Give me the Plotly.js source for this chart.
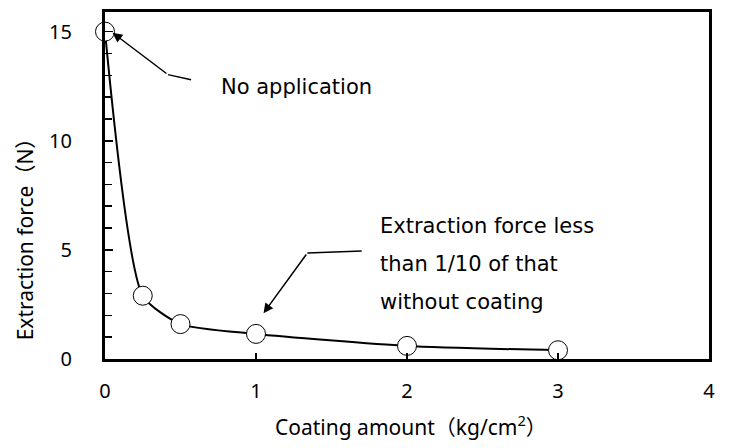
<!DOCTYPE html>
<html>
<head>
<meta charset="utf-8">
<script src="https://cdn.plot.ly/plotly-3.0.1.min.js"></script>
<style>html,body{margin:0;padding:0;background:#fff;}#chart{width:729px;height:448px;}</style>
</head>
<body>
<div id="chart"></div>
<script>
const coatingAmount = [0, 0.25, 0.5, 1, 2, 3];
const extractionForce = [15, 2.9, 1.6, 1.15, 0.6, 0.4];
const xTickVals = [0, 1, 2, 3, 4];
const yTickVals = [0, 5, 10, 15];
const xTitle = 'Coating amount（kg/cm<sup>2</sup>）';
const yTitle = 'Extraction force（N）';
const note1 = 'No application';
const note2Lines = ['Extraction force less', 'than 1/10 of that', 'without coating'];

const FONT = '"Noto Sans", "Noto Sans CJK JP", sans-serif';
const NOTE_FONT = '"DejaVu Sans", "Noto Sans CJK JP", sans-serif';

const trace = {
  x: coatingAmount, y: extractionForce,
  mode: 'lines+markers', type: 'scatter',
  line: {color: '#000', width: 2, shape: 'spline', smoothing: 0.6},
  marker: {size: 19, color: '#fff', line: {color: '#000', width: 1}},
  cliponaxis: false, showlegend: false, hoverinfo: 'skip'
};

const annotations = [
  {x: 0.755, y: 12.45, xref: 'x', yref: 'y', text: note1, showarrow: false,
   xanchor: 'left', yanchor: 'middle', font: {family: NOTE_FONT, size: 21, color: '#000'}},
  {x: 0.05, y: 14.95, ax: 0.417, ay: 13.03, axref: 'x', ayref: 'y', xref: 'x', yref: 'y',
   text: '', showarrow: true, arrowhead: 2, arrowsize: 1.3, arrowwidth: 1.5, arrowcolor: '#000', standoff: 0},
  {x: 1.05, y: 2.1, ax: 1.34, ay: 4.86, axref: 'x', ayref: 'y', xref: 'x', yref: 'y',
   text: '', showarrow: true, arrowhead: 2, arrowsize: 1.3, arrowwidth: 1.5, arrowcolor: '#000', standoff: 0},
  {x: -0.132, y: 0.36, xref: 'paper', yref: 'paper', text: yTitle, textangle: -90, showarrow: false,
   xanchor: 'center', yanchor: 'middle', font: {family: FONT, size: 21, color: '#000'}},
  {x: 0.507, y: -0.243, xref: 'paper', yref: 'paper', text: xTitle, showarrow: false,
   xanchor: 'center', yanchor: 'bottom', font: {family: FONT, size: 21, color: '#000'}}
];
note2Lines.forEach((t, i) => {
  annotations.push({x: 1.81, y: 6.1 - i * 1.74, xref: 'x', yref: 'y', text: t, showarrow: false,
    xanchor: 'left', yanchor: 'middle', font: {family: NOTE_FONT, size: 21, color: '#000'}});
});

const shapes = [
  {type: 'line', xref: 'x', yref: 'y', x0: 0.57, y0: 12.8, x1: 0.417, y1: 13.03, line: {color: '#000', width: 1.5}},
  {type: 'line', xref: 'x', yref: 'y', x0: 1.70, y0: 4.95, x1: 1.34, y1: 4.86, line: {color: '#000', width: 1.5}}
];

const layout = {
  width: 729, height: 448,
  margin: {l: 105, r: 20, t: 12, b: 89},
  paper_bgcolor: '#fff', plot_bgcolor: '#fff',
  font: {family: FONT, size: 20, color: '#000'},
  xaxis: {
    range: [0, 4], tickvals: xTickVals, ticks: 'inside', ticklen: 6, tickwidth: 1.5, tickcolor: '#000',
    showline: true, linecolor: '#000', linewidth: 3, mirror: true, showgrid: false, zeroline: false,
    tickfont: {family: FONT, size: 20}, ticklabelstandoff: 12
  },
  yaxis: {
    range: [0, 15.9], tickvals: yTickVals, ticks: 'inside', ticklen: 8, tickwidth: 1.5, tickcolor: '#000',
    minor: {dtick: 1, tick0: 0, ticks: 'inside', ticklen: 7, tickwidth: 1.5, tickcolor: '#000'},
    showline: true, linecolor: '#000', linewidth: 3, mirror: true, showgrid: false, zeroline: false,
    tickfont: {family: FONT, size: 20}, ticklabelstandoff: 26
  },
  annotations: annotations,
  shapes: shapes
};

Plotly.newPlot('chart', [trace], layout, {displayModeBar: false, staticPlot: true});
</script>
</body>
</html>
